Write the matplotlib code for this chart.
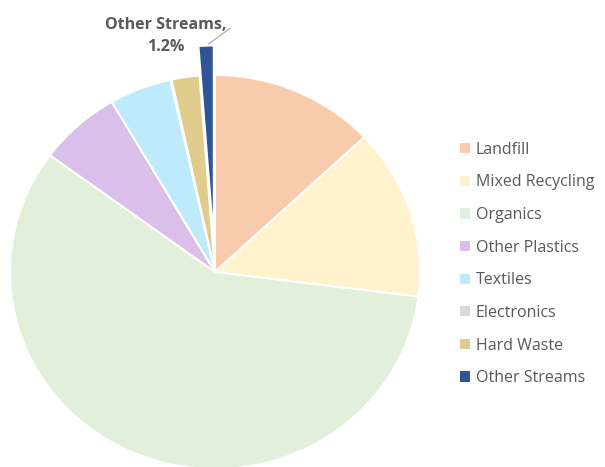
import numpy as np
import matplotlib
matplotlib.use('Agg')
import matplotlib.pyplot as plt
from matplotlib.patches import Patch

categories = ['Landfill', 'Mixed Recycling', 'Organics', 'Other Plastics',
              'Textiles', 'Electronics', 'Hard Waste', 'Other Streams']
shares = [13.0, 14.0, 58.1, 6.5, 4.9, 0.1, 2.2, 1.2]
colors = ['#F8CBAD', '#FFF2CC', '#E2EFDA', '#D9BFEA',
          '#BDEBFC', '#D9D9D9', '#E0CD8D', '#2F5597']
explode = [0, 0, 0, 0, 0, 0, 0, 0.15]

plt.rcParams['font.family'] = ['Open Sans', 'DejaVu Sans']
text_color = '#595959'

W, H = 605, 467
fig = plt.figure(figsize=(W / 100, H / 100), dpi=100)
# pie centre ~(215, 272) px, radii 205 x 197 px (slightly stretched)
cx, cy, rx, ry = 215, 272, 205, 197
ax = fig.add_axes([(cx - rx) / W, (H - cy - ry) / H, 2 * rx / W, 2 * ry / H])

wedges, _ = ax.pie(shares, colors=colors, explode=explode, startangle=90,
                   counterclock=False, radius=1,
                   wedgeprops=dict(edgecolor='white', linewidth=1.5))
for w in wedges:
    w.set_clip_on(False)
ax.set_aspect('auto')
ax.set_xlim(-1, 1)
ax.set_ylim(-1, 1)

# label for the exploded slice
last = wedges[-1]
mid = np.deg2rad((last.theta1 + last.theta2) / 2)
tip = ((1 + explode[-1]) * np.cos(mid), (1 + explode[-1]) * np.sin(mid))
ax.annotate('', xy=tip, xytext=(0.085, 1.245),
            arrowprops=dict(arrowstyle='-', color='#A6A6A6', lw=0.8),
            annotation_clip=False)
ax.text(-0.24, 1.2, f'{categories[-1]},\n{shares[-1]}%', ha='center', va='center',
        fontsize=11.5, fontweight='bold', color=text_color, linespacing=1.5,
        clip_on=False)

handles = [Patch(facecolor=c, edgecolor='none') for c in colors]
leg = fig.legend(handles, categories, loc='center left',
                 bbox_to_anchor=(454 / W, 1 - 264 / H), frameon=False,
                 fontsize=11.5, handlelength=0.6, handleheight=0.6,
                 handletextpad=0.35, labelspacing=1.04, borderaxespad=0)
for t in leg.get_texts():
    t.set_color(text_color)

fig.savefig('out.png', dpi=100)
